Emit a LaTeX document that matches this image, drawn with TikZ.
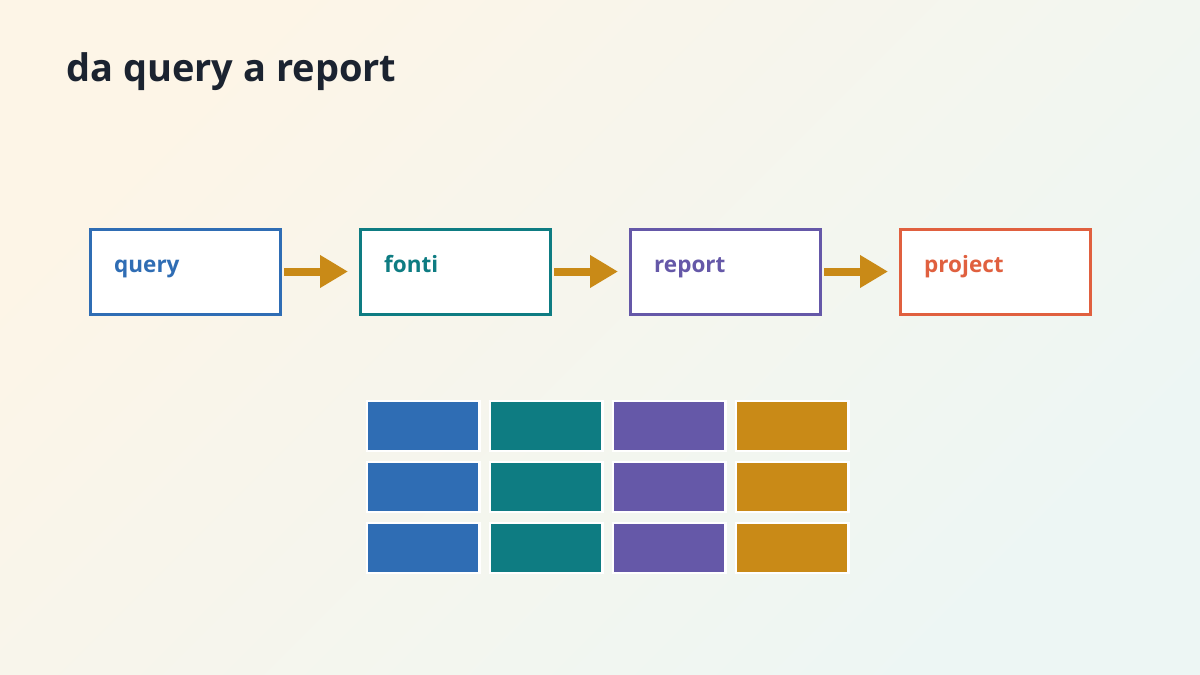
\documentclass[tikz,border=0pt]{standalone}
\usepackage{fontspec}
\setmainfont{Open Sans}
\usetikzlibrary{arrows.meta,calc}
\definecolor{cblue}{HTML}{2F6DB4}
\definecolor{cteal}{HTML}{0E7C82}
\definecolor{cpurple}{HTML}{6558A8}
\definecolor{cgold}{HTML}{C98A17}
\definecolor{cred}{HTML}{E0603F}
\definecolor{ctitle}{HTML}{1B2330}
\definecolor{bgA}{HTML}{FDF5E7}
\definecolor{bgB}{HTML}{EDF6F4}
\tikzset{
  stagebox/.style={draw=#1, line width=3pt, fill=white, minimum width=190pt, minimum height=85pt, inner sep=0pt},
  stagetxt/.style={text=#1, font=\fontsize{22.5}{26}\selectfont\bfseries, inner sep=0pt, anchor=base west},
  flowarrow/.style={draw=cgold, line width=8pt, -{Triangle[length=28pt,width=31pt]}, shorten <=2pt, shorten >=11pt},
  cell/.style={fill=#1, draw=white, line width=2.5pt, minimum width=112.5pt, minimum height=50pt, inner sep=0pt},
}
\begin{document}
\begin{tikzpicture}[x=1pt,y=-1pt]
  \shade[top color=bgA, bottom color=bgB, shading angle=45] (0,0) rectangle (1200,675);
  \useasboundingbox (0,0) rectangle (1200,675);
  \node[text=ctitle, font=\fontsize{38}{45}\selectfont\bfseries, anchor=base west, inner sep=0pt] (title) at (66,81) {da query a report};

  \node[stagebox=cblue] (b1) at (185.5,271.5) {};
  \node[stagebox=cteal] (b2) at (455.5,271.5) {};
  \node[stagebox=cpurple] (b3) at (725.5,271.5) {};
  \node[stagebox=cred] (b4) at (995.5,271.5) {};

  \node[stagetxt=cblue] (t1) at ($(b1.west)+(25,1)$) {query};
  \node[stagetxt=cteal] (t2) at ($(b2.west)+(25,1)$) {fonti};
  \node[stagetxt=cpurple] (t3) at ($(b3.west)+(25,1)$) {report};
  \node[stagetxt=cred] (t4) at ($(b4.west)+(25,1)$) {project};

  \draw[flowarrow] (b1.east) -- (b2.west);
  \draw[flowarrow] (b2.east) -- (b3.west);
  \draw[flowarrow] (b3.east) -- (b4.west);

  \foreach \col/\cx in {cblue/423, cteal/546, cpurple/669, cgold/792} {
    \foreach \r/\cy in {1/426, 2/487, 3/548} {
      \node[cell=\col] (c-\col-\r) at (\cx,\cy) {};
    }
  }
\end{tikzpicture}
\end{document}
